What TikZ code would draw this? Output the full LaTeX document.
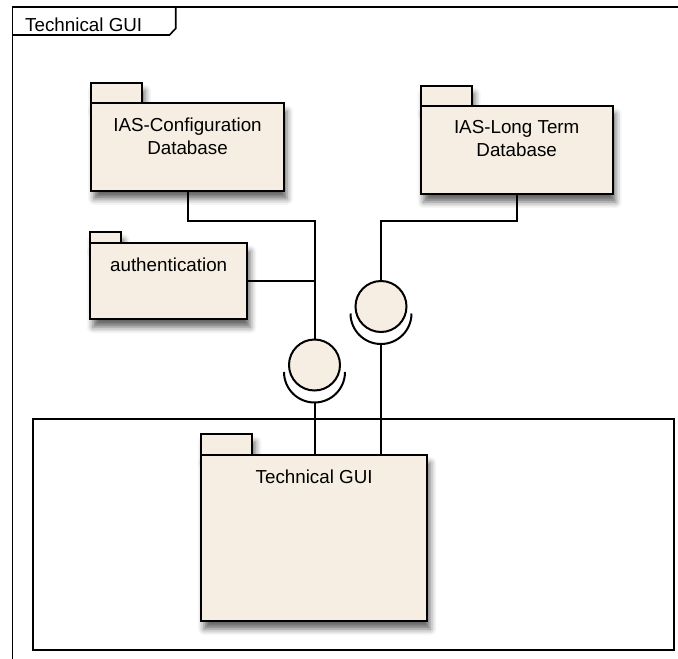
\documentclass[tikz,border=0pt]{standalone}
\usepackage{fontspec}
\setmainfont{Liberation Sans}
\usetikzlibrary{shadows.blur}
\definecolor{pkgfill}{HTML}{F6EEE2}
\tikzset{
  pkgpart/.style={rectangle, draw=black, line width=2pt, fill=pkgfill,
    blur shadow={shadow xshift=3pt, shadow yshift=-8pt, shadow blur radius=6pt, shadow opacity=60},
    inner sep=0pt, outer sep=0pt, anchor=north west},
  pkglabel/.style={font=\fontsize{18.8}{23}\selectfont, align=center, inner sep=0pt, anchor=north},
  iface/.style={circle, draw=black, line width=2pt, fill=pkgfill, minimum size=51pt, inner sep=0pt, outer sep=0pt},
  wire/.style={line width=2pt},
  frameline/.style={line width=1.6pt},
}
\begin{document}
\begin{tikzpicture}[x=1pt, y=-1pt]
\useasboundingbox (0,0) rectangle (678,659);

% diagram frame with its name tab
\draw[frameline] (12.3,659) -- (12.3,6.7) -- (678,6.7);
\draw[frameline] (12.3,35) -- (169.5,35) -- (175.7,28.5) -- (175.7,6.7);
\node[anchor=base west, inner sep=0pt, font=\fontsize{18.8}{23}\selectfont] (frametitle) at (25,31.7) {Technical GUI};

% enclosing box of the GUI component
\draw[wire] (33,419.3) rectangle (674,650);

% packages
\node[pkgpart, minimum width=51, minimum height=20.5] (cfgtab) at (91,82.7) {};
\node[pkgpart, minimum width=193, minimum height=87.5] (cfg) at (91,103.3) {};
\node[pkglabel] (cfglabel) at ([yshift=-14.5pt]cfg.north) {IAS-Configuration\\Database};

\node[pkgpart, minimum width=51, minimum height=20.3] (lttab) at (420.7,85.7) {};
\node[pkgpart, minimum width=192, minimum height=88] (lt) at (420.7,106) {};
\node[pkglabel] (ltlabel) at ([yshift=-14.5pt]lt.north) {IAS-Long Term\\Database};

\node[pkgpart, minimum width=30.7, minimum height=11.3] (authtab) at (90,232) {};
\node[pkgpart, minimum width=157.3, minimum height=76] (auth) at (90,243.3) {};
\node[pkglabel] (authlabel) at ([yshift=-14pt]auth.north) {authentication};

\node[pkgpart, minimum width=51.3, minimum height=21] (guitab) at (201,434) {};
\node[pkgpart, minimum width=226.3, minimum height=166] (gui) at (201,455) {};
\node[pkglabel] (guilabel) at ([yshift=-14.3pt]gui.north) {Technical GUI};

% provided interfaces (balls) and required interfaces (sockets)
\node[iface] (iface1) at (314.5,365) {};
\node[iface] (iface2) at (381,306.5) {};
\draw[wire] (iface1.center) ++(-30.5,7) arc[start angle=180, end angle=360, radius=30.5pt];
\draw[wire] (iface2.center) ++(-30.5,7) arc[start angle=180, end angle=360, radius=30.5pt];
\path (iface1.center) ++(0,37.5) coordinate (sock1);
\path (iface2.center) ++(0,37.5) coordinate (sock2);

% connectors
\coordinate (j1) at (314.5,220.7);
\coordinate (j2) at (381,220.7);
\draw[wire] (cfg.south) |- (j1) -- (iface1.north);
\draw[wire] (auth.east) -- (auth.east -| j1);
\draw[wire] (lt.south) |- (j2) -- (iface2.north);
\draw[wire] (sock1) -- (sock1 |- gui.north);
\draw[wire] (sock2) -- (sock2 |- gui.north);
\end{tikzpicture}
\end{document}
